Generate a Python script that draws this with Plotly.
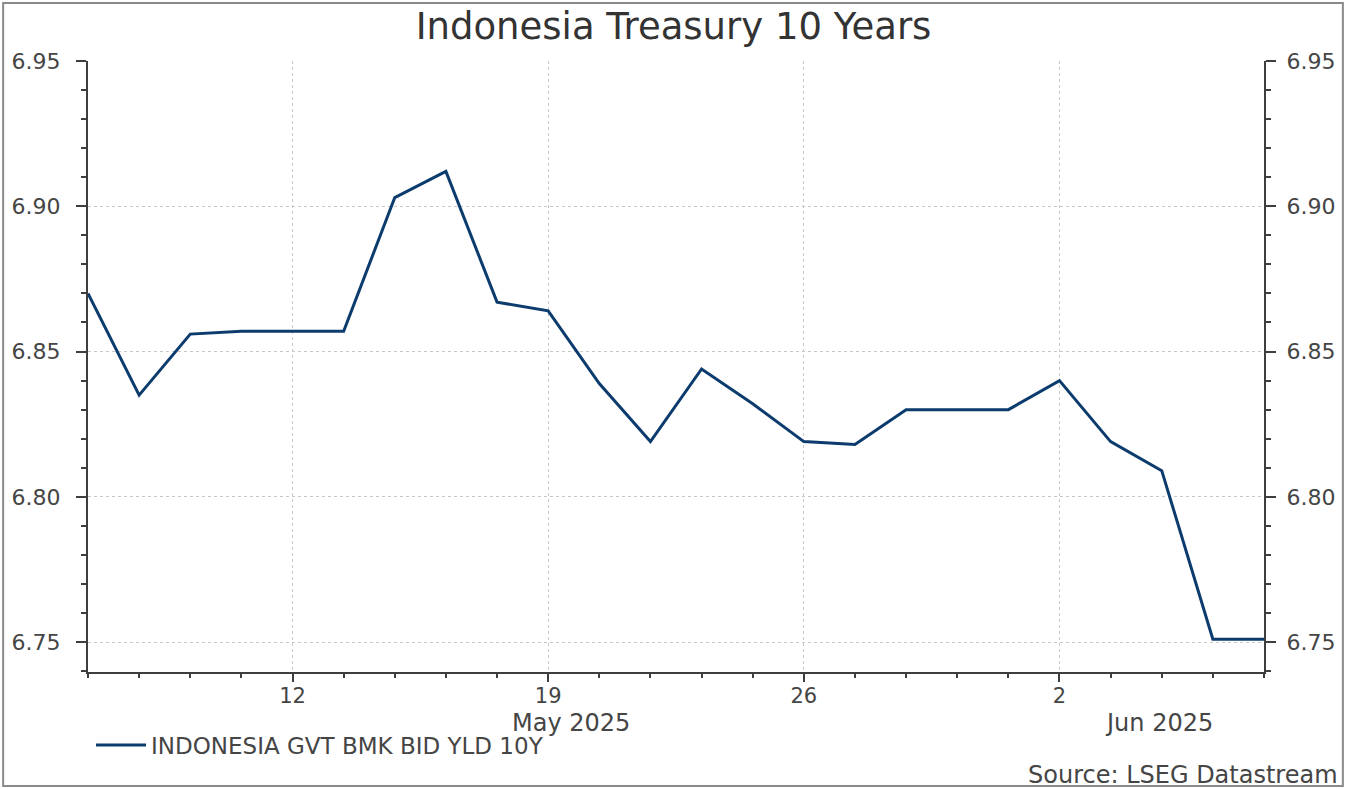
import plotly.graph_objects as go

# ---- data ----
dates = [
    "2025-05-06", "2025-05-07", "2025-05-08", "2025-05-09",
    "2025-05-12", "2025-05-13", "2025-05-14", "2025-05-15", "2025-05-16",
    "2025-05-19", "2025-05-20", "2025-05-21", "2025-05-22", "2025-05-23",
    "2025-05-26", "2025-05-27", "2025-05-28", "2025-05-29", "2025-05-30",
    "2025-06-02", "2025-06-03", "2025-06-04", "2025-06-05", "2025-06-06",
]
yield_10y = [
    6.870, 6.835, 6.856, 6.857,
    6.857, 6.857, 6.903, 6.912, 6.867,
    6.864, 6.839, 6.819, 6.844, 6.832,
    6.819, 6.818, 6.830, 6.830, 6.830,
    6.840, 6.819, 6.809, 6.751, 6.751,
]
series_name = "INDONESIA GVT BMK BID YLD 10Y"
title_text = "Indonesia Treasury 10 Years"
x_tickvals = ["2025-05-12", "2025-05-19", "2025-05-26", "2025-06-02"]
x_ticktext = ["12", "19", "26", "2"]
y_tickvals = [6.75, 6.80, 6.85, 6.90, 6.95]
y_ticktext = ["6.75", "6.80", "6.85", "6.90", "6.95"]
month_labels = ["May 2025", "Jun 2025"]
source_text = "Source: LSEG Datastream"

FONT = "DejaVu Sans"
LINE_COLOR = "#0c3b6d"
AXIS_COLOR = "#3e3e3e"
TEXT_COLOR = "#454545"
GRID_COLOR = "#c8c8c8"

W, H = 1347, 789
ML, MR, MT, MB = 87, 82, 61, 117
PW = W - ML - MR
PH = H - MT - MB


def px_x(px):
    return (px - ML) / PW


def px_y(py):
    return (H - MB - py) / PH


fig = go.Figure()
fig.add_trace(go.Scatter(
    x=dates, y=yield_10y, mode="lines", name=series_name,
    line=dict(color=LINE_COLOR, width=3), yaxis="y",
))
# same series on the right axis (invisible) so the right-hand scale is drawn
fig.add_trace(go.Scatter(
    x=dates, y=yield_10y, mode="lines", name=series_name,
    line=dict(color="rgba(0,0,0,0)", width=0), yaxis="y2",
    showlegend=False, hoverinfo="skip",
))

yrange = [6.7397, 6.95]
yaxis_common = dict(
    range=yrange, tickmode="array", tickvals=y_tickvals, ticktext=y_ticktext,
    ticks="outside", ticklen=10, tickwidth=2, tickcolor=AXIS_COLOR,
    showline=True, linecolor=AXIS_COLOR, linewidth=2,
    tickfont=dict(family=FONT, size=22, color=TEXT_COLOR),
    minor=dict(tickmode="linear", tick0=6.75, dtick=0.01, ticks="outside",
               ticklen=5, tickwidth=2, tickcolor=AXIS_COLOR, showgrid=False),
    zeroline=False, fixedrange=True,
)

fig.update_layout(
    width=W, height=H,
    margin=dict(l=ML, r=MR, t=MT, b=MB),
    paper_bgcolor="white", plot_bgcolor="white",
    font=dict(family=FONT, color=TEXT_COLOR),
    title=dict(text=title_text, x=0.5, xref="container", xanchor="center",
               y=1 - 26 / H, yref="container", yanchor="middle",
               font=dict(family=FONT, size=37, color="#333333")),
    xaxis=dict(
        type="date", range=[dates[0], dates[-1]],
        rangebreaks=[dict(bounds=["sat", "mon"])],
        tickmode="array", tickvals=x_tickvals, ticktext=x_ticktext,
        ticks="outside", ticklen=8, tickwidth=2, tickcolor=AXIS_COLOR,
        showline=True, linecolor=AXIS_COLOR, linewidth=2,
        showgrid=True, gridcolor=GRID_COLOR, griddash="dot", gridwidth=1,
        tickfont=dict(family=FONT, size=21, color=TEXT_COLOR),
        ticklabelstandoff=-4,
        minor=dict(tickmode="array", tickvals=dates, ticks="outside",
                   ticklen=4, tickwidth=2, tickcolor=AXIS_COLOR, showgrid=False),
        zeroline=False, fixedrange=True,
    ),
    yaxis=dict(**yaxis_common, side="left", showgrid=True,
               gridcolor=GRID_COLOR, griddash="dot", gridwidth=1,
               ticklabelstandoff=11),
    yaxis2=dict(**yaxis_common, side="right", overlaying="y", showgrid=False,
                ticklabelstandoff=6),
    showlegend=True,
    legend=dict(x=px_x(90), y=px_y(745), xanchor="left", yanchor="middle",
                orientation="h", bgcolor="rgba(0,0,0,0)",
                font=dict(family=FONT, size=23, color=TEXT_COLOR),
                itemwidth=50),
    annotations=[
        dict(text=month_labels[0], xref="paper", yref="paper",
             x=px_x(571), y=px_y(723), xanchor="center", yanchor="middle",
             showarrow=False, font=dict(family=FONT, size=24, color=TEXT_COLOR)),
        dict(text=month_labels[1], xref="paper", yref="paper",
             x=px_x(1160), y=px_y(723), xanchor="center", yanchor="middle",
             showarrow=False, font=dict(family=FONT, size=24, color=TEXT_COLOR)),
        dict(text=source_text, xref="paper", yref="paper",
             x=px_x(1341), y=px_y(775), xanchor="right", yanchor="middle",
             showarrow=False, font=dict(family=FONT, size=24, color=TEXT_COLOR)),
    ],
    shapes=[
        dict(type="rect", xref="paper", yref="paper",
             x0=px_x(2), x1=px_x(1344), y0=px_y(786), y1=px_y(3),
             line=dict(color="#8a8a8a", width=2), fillcolor="rgba(0,0,0,0)",
             layer="below"),
    ],
)

fig.write_html(
    "out.html",
    config={"displayModeBar": False},
    post_script="document.body.style.margin='0';document.body.style.overflow='hidden';",
)
